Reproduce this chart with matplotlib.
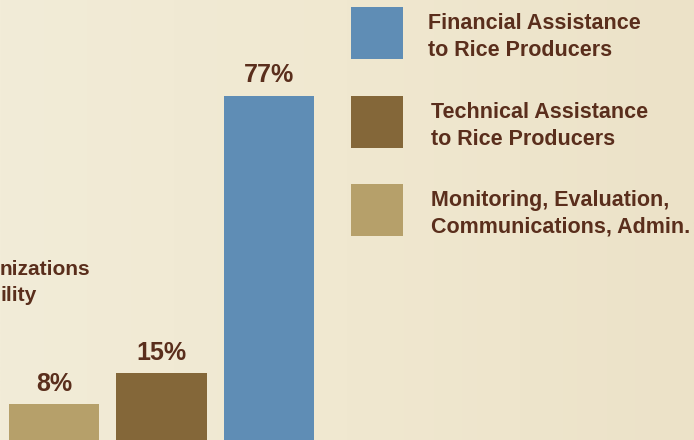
import numpy as np
import matplotlib
matplotlib.use("Agg")
import matplotlib.pyplot as plt
from matplotlib.patches import Rectangle
from matplotlib.colors import LinearSegmentedColormap

# ---- data ----
categories = ["Monitoring, Evaluation,\nCommunications, Admin.",
              "Technical Assistance\nto Rice Producers",
              "Financial Assistance\nto Rice Producers"]
shares = [8, 15, 77]
bar_colors = ["#b6a06a", "#846739", "#5f8db5"]
legend_order = [2, 1, 0]          # legend lists the largest share first
side_lines = ["nizations", "ility"]   # caption fragment cut by the crop

TXT = "#5a2e1c"
FONT = "Liberation Sans"
W, H = 694, 440

fig = plt.figure(figsize=(W / 100, H / 100), dpi=100)

# parchment background (soft left-to-right tint)
bg = fig.add_axes([0, 0, 1, 1], zorder=0)
paper = LinearSegmentedColormap.from_list("paper", ["#f2ecd8", "#f0e8d0", "#ece2c8"])
bg.imshow(np.linspace(0, 1, 256)[None, :], cmap=paper, aspect="auto",
          extent=[0, 1, 0, 1])
bg.set_axis_off()

# ---- bars ----
spacing = 107.5            # px between bar centres
ax = fig.add_axes([0.3 / W, 0, 3 * spacing / W, 1], zorder=1)
ax.patch.set_alpha(0)
x = np.arange(len(shares))
ax.bar(x, shares, width=0.84, color=bar_colors)
ax.set_xlim(-0.5, 2.5)
ax.set_ylim(0, 98.4)
for xi, v in zip(x, shares):
    ax.annotate(f"{v}%", (xi, v), xytext=(0, 6), textcoords="offset points",
                ha="center", va="bottom", fontsize=18, fontweight="bold",
                color=TXT, family=FONT)
ax.set_axis_off()

# ---- overlay in pixel coords for legend and side caption ----
ov = fig.add_axes([0, 0, 1, 1], zorder=2)
ov.patch.set_alpha(0)
ov.set_xlim(0, W)
ov.set_ylim(H, 0)
ov.set_axis_off()

sw_top = [7, 96, 184]
txt_x = [428, 431, 431]
for k, i in enumerate(legend_order):
    ov.add_patch(Rectangle((351, sw_top[k]), 52, 52, color=bar_colors[i], lw=0))
    for j, line in enumerate(categories[i].split("\n")):
        ov.text(txt_x[k], sw_top[k] + 22 + 27 * j, line, ha="left", va="baseline",
                fontsize=15.5, fontweight="bold", color=TXT, family=FONT)

ov.text(0, 275, side_lines[0], ha="left", va="baseline", fontsize=15,
        fontweight="bold", color=TXT, family=FONT)
ov.text(0, 301, side_lines[1], ha="left", va="baseline", fontsize=15,
        fontweight="bold", color=TXT, family=FONT)

fig.savefig("out.png", dpi=100)
